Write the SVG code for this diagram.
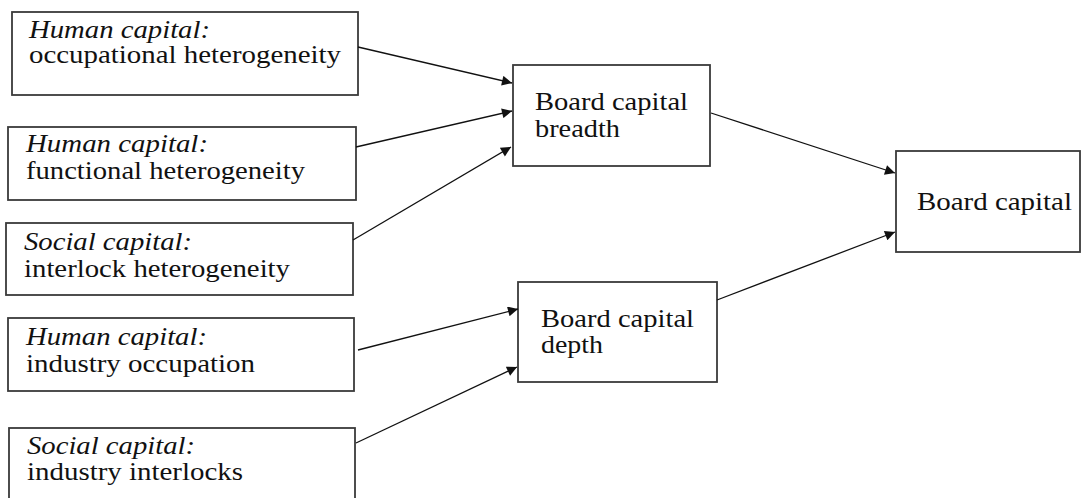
<svg xmlns="http://www.w3.org/2000/svg" width="1082" height="498" viewBox="0 0 1082 498">
<style>
.box{fill:#fff;stroke:#3a3a3a;stroke-width:1.8}
text{font-family:"Liberation Serif","Times New Roman",serif;font-size:25px;fill:#111}
.it{font-style:italic}
.conn line{stroke:#111;stroke-width:1.3}
</style>
<defs>
<marker id="ah" viewBox="0 0 10 10" refX="10" refY="5" markerWidth="13" markerHeight="10" markerUnits="userSpaceOnUse" orient="auto">
<path d="M0,0 L10,5 L0,10 z" fill="#111"/>
</marker>
</defs>
<rect width="1082" height="498" fill="#fff"/>
<g id="n1"><rect class="box" x="12" y="12" width="346" height="83"/>
<text class="it" x="29" y="38" textLength="181" lengthAdjust="spacingAndGlyphs">Human capital:</text>
<text x="29" y="63" textLength="312" lengthAdjust="spacingAndGlyphs">occupational heterogeneity</text></g>
<g id="n2"><rect class="box" x="8" y="127" width="348" height="73"/>
<text class="it" x="26" y="152" textLength="182" lengthAdjust="spacingAndGlyphs">Human capital:</text>
<text x="26" y="179" textLength="279" lengthAdjust="spacingAndGlyphs">functional heterogeneity</text></g>
<g id="n3"><rect class="box" x="6" y="223" width="347" height="72"/>
<text class="it" x="24" y="250" textLength="168" lengthAdjust="spacingAndGlyphs">Social capital:</text>
<text x="24" y="277" textLength="266" lengthAdjust="spacingAndGlyphs">interlock heterogeneity</text></g>
<g id="n4"><rect class="box" x="8" y="318" width="346" height="73"/>
<text class="it" x="26" y="345" textLength="181" lengthAdjust="spacingAndGlyphs">Human capital:</text>
<text x="26" y="372" textLength="229" lengthAdjust="spacingAndGlyphs">industry occupation</text></g>
<g id="n5"><rect class="box" x="9" y="428" width="346" height="80"/>
<text class="it" x="27" y="454" textLength="168" lengthAdjust="spacingAndGlyphs">Social capital:</text>
<text x="27" y="480" textLength="216" lengthAdjust="spacingAndGlyphs">industry interlocks</text></g>
<g id="breadth"><rect class="box" x="513" y="65" width="197" height="101"/>
<text x="535" y="110" textLength="153" lengthAdjust="spacingAndGlyphs">Board capital</text>
<text x="535" y="137" textLength="85" lengthAdjust="spacingAndGlyphs">breadth</text></g>
<g id="depth"><rect class="box" x="518" y="282" width="199" height="100"/>
<text x="541" y="327" textLength="153" lengthAdjust="spacingAndGlyphs">Board capital</text>
<text x="541" y="353" textLength="62" lengthAdjust="spacingAndGlyphs">depth</text></g>
<g id="board"><rect class="box" x="896" y="151" width="184" height="101"/>
<text x="917" y="210" textLength="155" lengthAdjust="spacingAndGlyphs">Board capital</text></g>
<g class="conn" id="connectors">
<line x1="358" y1="47" x2="512" y2="83" marker-end="url(#ah)"/>
<line x1="356" y1="147" x2="512" y2="111" marker-end="url(#ah)"/>
<line x1="353" y1="240" x2="511" y2="147" marker-end="url(#ah)"/>
<line x1="358" y1="350" x2="518" y2="309" marker-end="url(#ah)"/>
<line x1="356" y1="443" x2="517" y2="367" marker-end="url(#ah)"/>
<line x1="711" y1="113" x2="895" y2="173" marker-end="url(#ah)"/>
<line x1="717" y1="300" x2="895" y2="232" marker-end="url(#ah)"/>
</g>
</svg>
